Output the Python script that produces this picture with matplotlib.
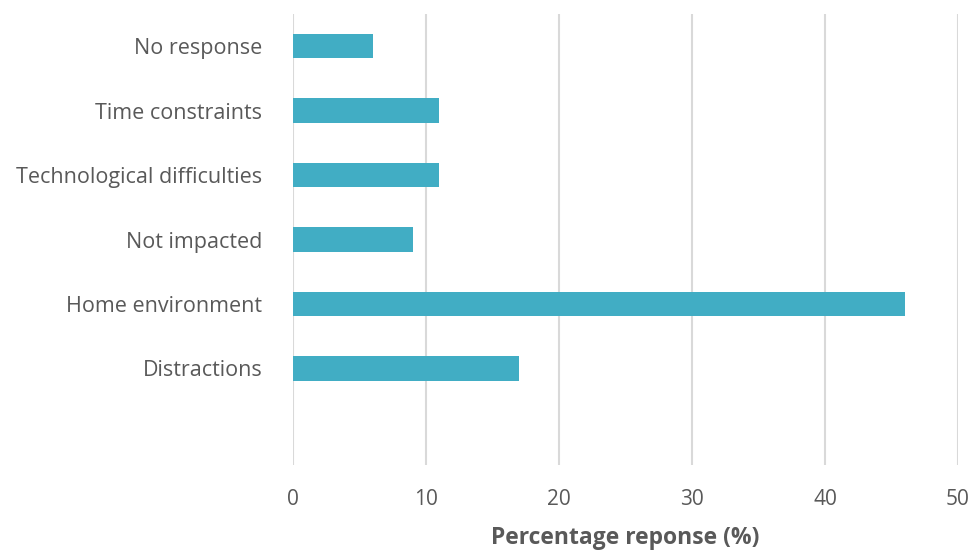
import numpy as np
import matplotlib.pyplot as plt

# survey answers, listed bottom to top
categories = ["Distractions", "Home environment", "Not impacted",
              "Technological difficulties", "Time constraints", "No response"]
percent = [17, 46, 9, 11, 11, 6]
xticks = [0, 10, 20, 30, 40, 50]

plt.rcParams['font.family'] = ['Open Sans', 'DejaVu Sans']

fig = plt.figure(figsize=(9.74, 5.52), dpi=100)
ax = fig.add_axes([0.3008, 0.1576, 0.6828, 0.817])

# leave one empty slot under the bottom bar
ypos = np.arange(1, len(categories) + 1)
ax.barh(ypos, percent, height=0.38, color='#41adc4', zorder=3)

ax.set_xlim(0, 50)
ax.set_ylim(-0.5, len(categories) + 0.5)
ax.set_xticks(xticks)
ax.set_xticklabels([str(t) for t in xticks])
ax.set_yticks(ypos)
ax.set_yticklabels(categories)

ax.grid(axis='x', color='#d9d9d9', linewidth=1.5, zorder=0)
for s in ax.spines.values():
    s.set_visible(False)
ax.tick_params(axis='y', length=0, labelsize=15.5, colors='#595959', pad=22)
ax.tick_params(axis='x', length=0, labelsize=15, colors='#595959', pad=17)

ax.set_xlabel("Percentage reponse (%)", fontsize=16.5, fontweight='bold',
              color='#595959', labelpad=12)

fig.savefig('out.png', dpi=100)
